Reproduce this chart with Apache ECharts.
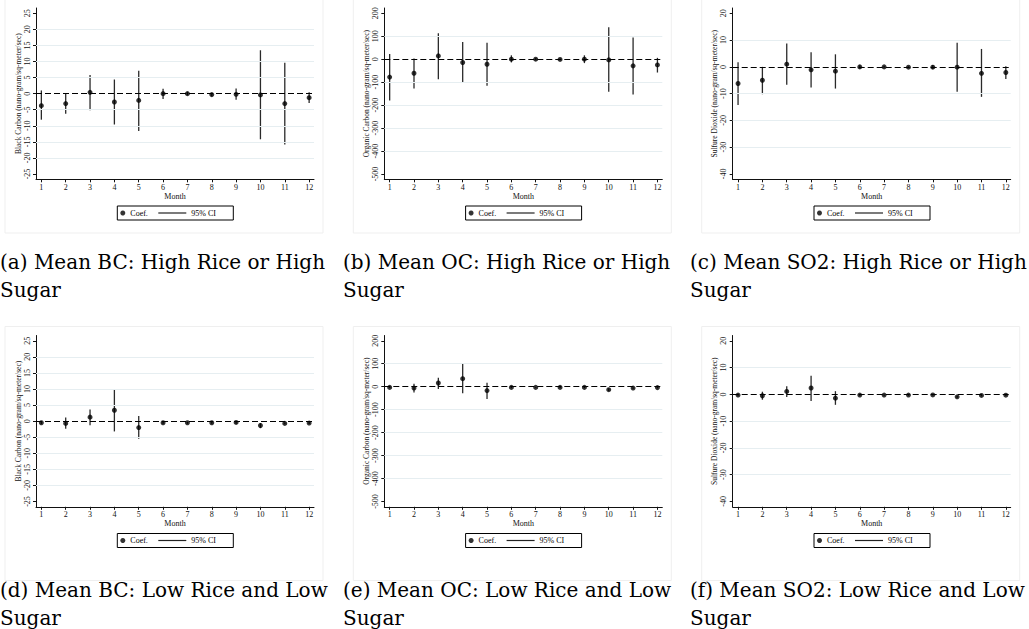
<!DOCTYPE html>
<html>
<head>
<meta charset="utf-8">
<script src="https://cdn.jsdelivr.net/npm/echarts@6/dist/echarts.min.js"></script>
<style>
html,body{margin:0;padding:0;background:#fff;}
#chart{width:1029px;height:629px;}
</style>
</head>
<body>
<div id="chart"></div>
<script>
// ---------- data ----------
const months = [1,2,3,4,5,6,7,8,9,10,11,12];

const bcHighCoef = [-3.75, -3.1, 0.4, -2.6, -2.1, 0.0, 0.0, -0.3, -0.2, -0.4, -3.1, -1.25];
const bcHighLo   = [-8.1, -6.25, -5.2, -9.6, -11.6, -1.7, -0.5, -0.8, -1.9, -14.2, -15.8, -2.9];
const bcHighHi   = [1.0, 0.0, 5.8, 4.4, 7.1, 1.5, 0.5, 0.2, 1.6, 13.5, 9.6, 0.4];

const ocHighCoef = [-78, -61, 14.5, -14.5, -22, 0, 0, -1, 0, -3, -29, -25];
const ocHighLo   = [-180, -128, -87, -104, -116, -14, -5, -5, -17, -142, -154, -58];
const ocHighHi   = [23, 3, 113, 75, 72, 17, 5, 3, 17, 139, 94, 6];

const so2HighCoef = [-6.2, -5.0, 1.0, -1.1, -1.6, 0, 0, -0.1, -0.1, -0.1, -2.4, -2.1];
const so2HighLo   = [-14.2, -10.2, -6.7, -7.7, -8.1, -0.6, -0.3, -0.4, -0.8, -9.3, -11.2, -4.5];
const so2HighHi   = [1.7, 0, 8.7, 5.5, 4.7, 0.6, 0.3, 0.2, 0.7, 9.0, 6.7, 0.2];

const bcLowCoef = [-0.5, -0.7, 1.25, 3.4, -2.0, -0.5, -0.5, -0.5, -0.4, -1.35, -0.7, -0.6];
const bcLowLo   = [-0.9, -2.4, -1.25, -3.2, -5.5, -0.8, -0.8, -0.8, -0.8, -2.2, -1.0, -0.9];
const bcLowHi   = [-0.1, 1.1, 3.6, 10.0, 1.6, -0.2, -0.2, -0.2, 0, -0.6, -0.4, -0.3];

const ocLowCoef = [-3, -6, 16, 35, -17, -3, -3, -3, -3, -13, -6, -4];
const ocLowLo   = [-6, -25, -10, -28, -54, -6, -5, -6, -6, -19, -9, -7];
const ocLowHi   = [0, 13, 39, 100, 17, 0, -1, 0, 0, -7, -3, -1];

const so2LowCoef = [-0.25, -0.5, 1.1, 2.4, -1.4, -0.25, -0.25, -0.25, -0.2, -0.9, -0.4, -0.3];
const so2LowLo   = [-0.5, -2.0, -1.0, -2.5, -3.9, -0.5, -0.5, -0.5, -0.4, -1.3, -0.7, -0.6];
const so2LowHi   = [0, 1.0, 3.0, 7.0, 1.2, 0, 0, 0, 0, -0.5, -0.1, 0];

const bcTicks  = [-25,-20,-15,-10,-5,0,5,10,15,20,25];
const ocTicks  = [-500,-400,-300,-200,-100,0,100,200];
const so2Ticks = [-40,-30,-20,-10,0,10,20];

const bcGrid  = [-20,-15,-10,-5,5,10,15,20];
const ocGrid  = [-400,-300,-200,-100,100];
const so2Grid = [-30,-20,-10,10];

const bcTitle  = 'Black Carbon (nano-gram/sq-meter/sec)';
const ocTitle  = 'Organic Carbon (nano-gram/sq-meter/sec)';
const so2Title = 'Sulfure Dioxide (nano-gram/sq-meter/sec)';

const captions = [
  ['(a) Mean BC: High Rice or High', 'Sugar'],
  ['(b) Mean OC: High Rice or High', 'Sugar'],
  ['(c) Mean SO2: High Rice or High', 'Sugar'],
  ['(d) Mean BC: Low Rice and Low', 'Sugar'],
  ['(e) Mean OC: Low Rice and Low', 'Sugar'],
  ['(f) Mean SO2: Low Rice and Low', 'Sugar']
];

// ---------- layout ----------
const panels = [
  {coef: bcHighCoef, lo: bcHighLo, hi: bcHighHi, ticks: bcTicks, grid: bcGrid, title: bcTitle, ymin: -26.65, ymax: 26.65},
  {coef: ocHighCoef, lo: ocHighLo, hi: ocHighHi, ticks: ocTicks, grid: ocGrid, title: ocTitle, ymin: -523, ymax: 223},
  {coef: so2HighCoef, lo: so2HighLo, hi: so2HighHi, ticks: so2Ticks, grid: so2Grid, title: so2Title, ymin: -42, ymax: 22},
  {coef: bcLowCoef, lo: bcLowLo, hi: bcLowHi, ticks: bcTicks, grid: bcGrid, title: bcTitle, ymin: -26.65, ymax: 26.65},
  {coef: ocLowCoef, lo: ocLowLo, hi: ocLowHi, ticks: ocTicks, grid: ocGrid, title: ocTitle, ymin: -523, ymax: 223},
  {coef: so2LowCoef, lo: so2LowLo, hi: so2LowHi, ticks: so2Ticks, grid: so2Grid, title: so2Title, ymin: -42, ymax: 22}
];

const colX = [0, 348.3, 696.7];
const rowY = [0, 327.5];
const capX = [0, 343, 690];
const SERIF = '"Liberation Serif", "Times New Roman", serif';

const grids = [], xAxes = [], yAxes = [], series = [], legends = [], graphics = [];

panels.forEach((p, i) => {
  const cx = colX[i % 3], ry = rowY[Math.floor(i / 3)];
  grids.push({left: 36 + cx, top: 8 + ry, width: 278, height: 171.3});
  xAxes.push({
    type: 'value', gridIndex: i, min: 0.78, max: 12.2,
    axisLine: {show: true, onZero: false, lineStyle: {color: '#111', width: 1}},
    axisTick: {show: true, length: 3, customValues: months, lineStyle: {color: '#111'}},
    axisLabel: {customValues: months, fontSize: 8, fontFamily: SERIF, color: '#111', margin: 4},
    splitLine: {show: false},
    name: 'Month', nameLocation: 'middle', nameGap: 12,
    nameTextStyle: {fontSize: 8, fontFamily: SERIF, color: '#111'}
  });
  yAxes.push({
    type: 'value', gridIndex: i, min: p.ymin, max: p.ymax,
    axisLine: {show: true, onZero: false, lineStyle: {color: '#111', width: 1}},
    axisTick: {show: true, length: 3, customValues: p.ticks, lineStyle: {color: '#111'}},
    axisLabel: {customValues: p.ticks, rotate: 90, fontSize: 8, fontFamily: SERIF, color: '#111', margin: 5},
    splitLine: {show: false},
    name: p.title, nameLocation: 'middle', nameGap: 14,
    nameTextStyle: {fontSize: 7.5, fontFamily: SERIF, color: '#111'}
  });
  // gridlines + dashed zero line
  series.push({
    type: 'scatter', name: 'ref' + i, xAxisIndex: i, yAxisIndex: i, z: 1, silent: true,
    symbolSize: 0, data: months.map((m, k) => [m, p.coef[k]]),
    markLine: {
      silent: true, symbol: ['none', 'none'], label: {show: false}, animation: false,
      data: p.grid.map(v => ({yAxis: v, lineStyle: {color: '#e6eef1', width: 1, type: 'solid'}}))
        .concat([{yAxis: 0, lineStyle: {color: '#000', width: 1.2, type: [6, 3]}}])
    }
  });
  series.push({
    type: 'custom', name: '95% CI', xAxisIndex: i, yAxisIndex: i, z: 2,
    itemStyle: {color: '#222'},
    encode: {x: 0, y: [1, 2]},
    data: months.map((m, k) => [m, p.lo[k], p.hi[k]]),
    renderItem: (params, api) => {
      const x = api.value(0);
      const a = api.coord([x, api.value(1)]);
      const b = api.coord([x, api.value(2)]);
      return {type: 'line', shape: {x1: a[0], y1: a[1], x2: b[0], y2: b[1]},
              style: {stroke: '#2a2a2a', lineWidth: 1.3}};
    },
    animation: false
  });
  series.push({
    type: 'scatter', name: 'Coef.', xAxisIndex: i, yAxisIndex: i, z: 3,
    symbol: 'circle', symbolSize: 5, itemStyle: {color: '#000'},
    data: months.map((m, k) => [m, p.coef[k]]),
    animation: false
  });
  // legend box
  const bx = 117.3 + cx, by = 206 + ry;
  graphics.push({type: 'rect', shape: {x: bx, y: by, width: 116, height: 14},
                 style: {fill: '#fff', stroke: '#000', lineWidth: 1}, z: 0, silent: true});
  legends.push({
    data: ['Coef.'], left: bx + 3, top: by + 2, padding: 0, selectedMode: false,
    icon: 'circle', itemWidth: 5, itemHeight: 5, z: 5,
    textStyle: {fontSize: 8, fontFamily: SERIF, color: '#000', lineHeight: 10}
  });
  legends.push({
    data: ['95% CI'], left: bx + 41, top: by + 2, padding: 0, selectedMode: false,
    icon: 'rect', itemWidth: 28, itemHeight: 1.2, z: 5,
    textStyle: {fontSize: 8, fontFamily: SERIF, color: '#000', lineHeight: 10}
  });
  // faint panel frame
  graphics.push({type: 'rect', shape: {x: 5 + cx, y: -1 + ry, width: 318, height: ry ? 254 : 234},
                 style: {fill: 'none', stroke: '#efefef', lineWidth: 1}, z: -1, silent: true});
  // captions
  const capY = ry + 262;
  const tx = capX[i % 3];
  graphics.push({type: 'text', x: tx, y: capY,
    style: {text: captions[i][0], font: '20px "DejaVu Serif"', fill: '#000', verticalAlign: 'middle'}, silent: true});
  graphics.push({type: 'text', x: tx, y: capY + 28,
    style: {text: captions[i][1], font: '20px "DejaVu Serif"', fill: '#000', verticalAlign: 'middle'}, silent: true});
});

const chart = echarts.init(document.getElementById('chart'), null, {renderer: 'svg'});
chart.setOption({
  backgroundColor: '#fff',
  animation: false,
  grid: grids,
  xAxis: xAxes,
  yAxis: yAxes,
  legend: legends,
  series: series,
  graphic: graphics
});
</script>
</body>
</html>
